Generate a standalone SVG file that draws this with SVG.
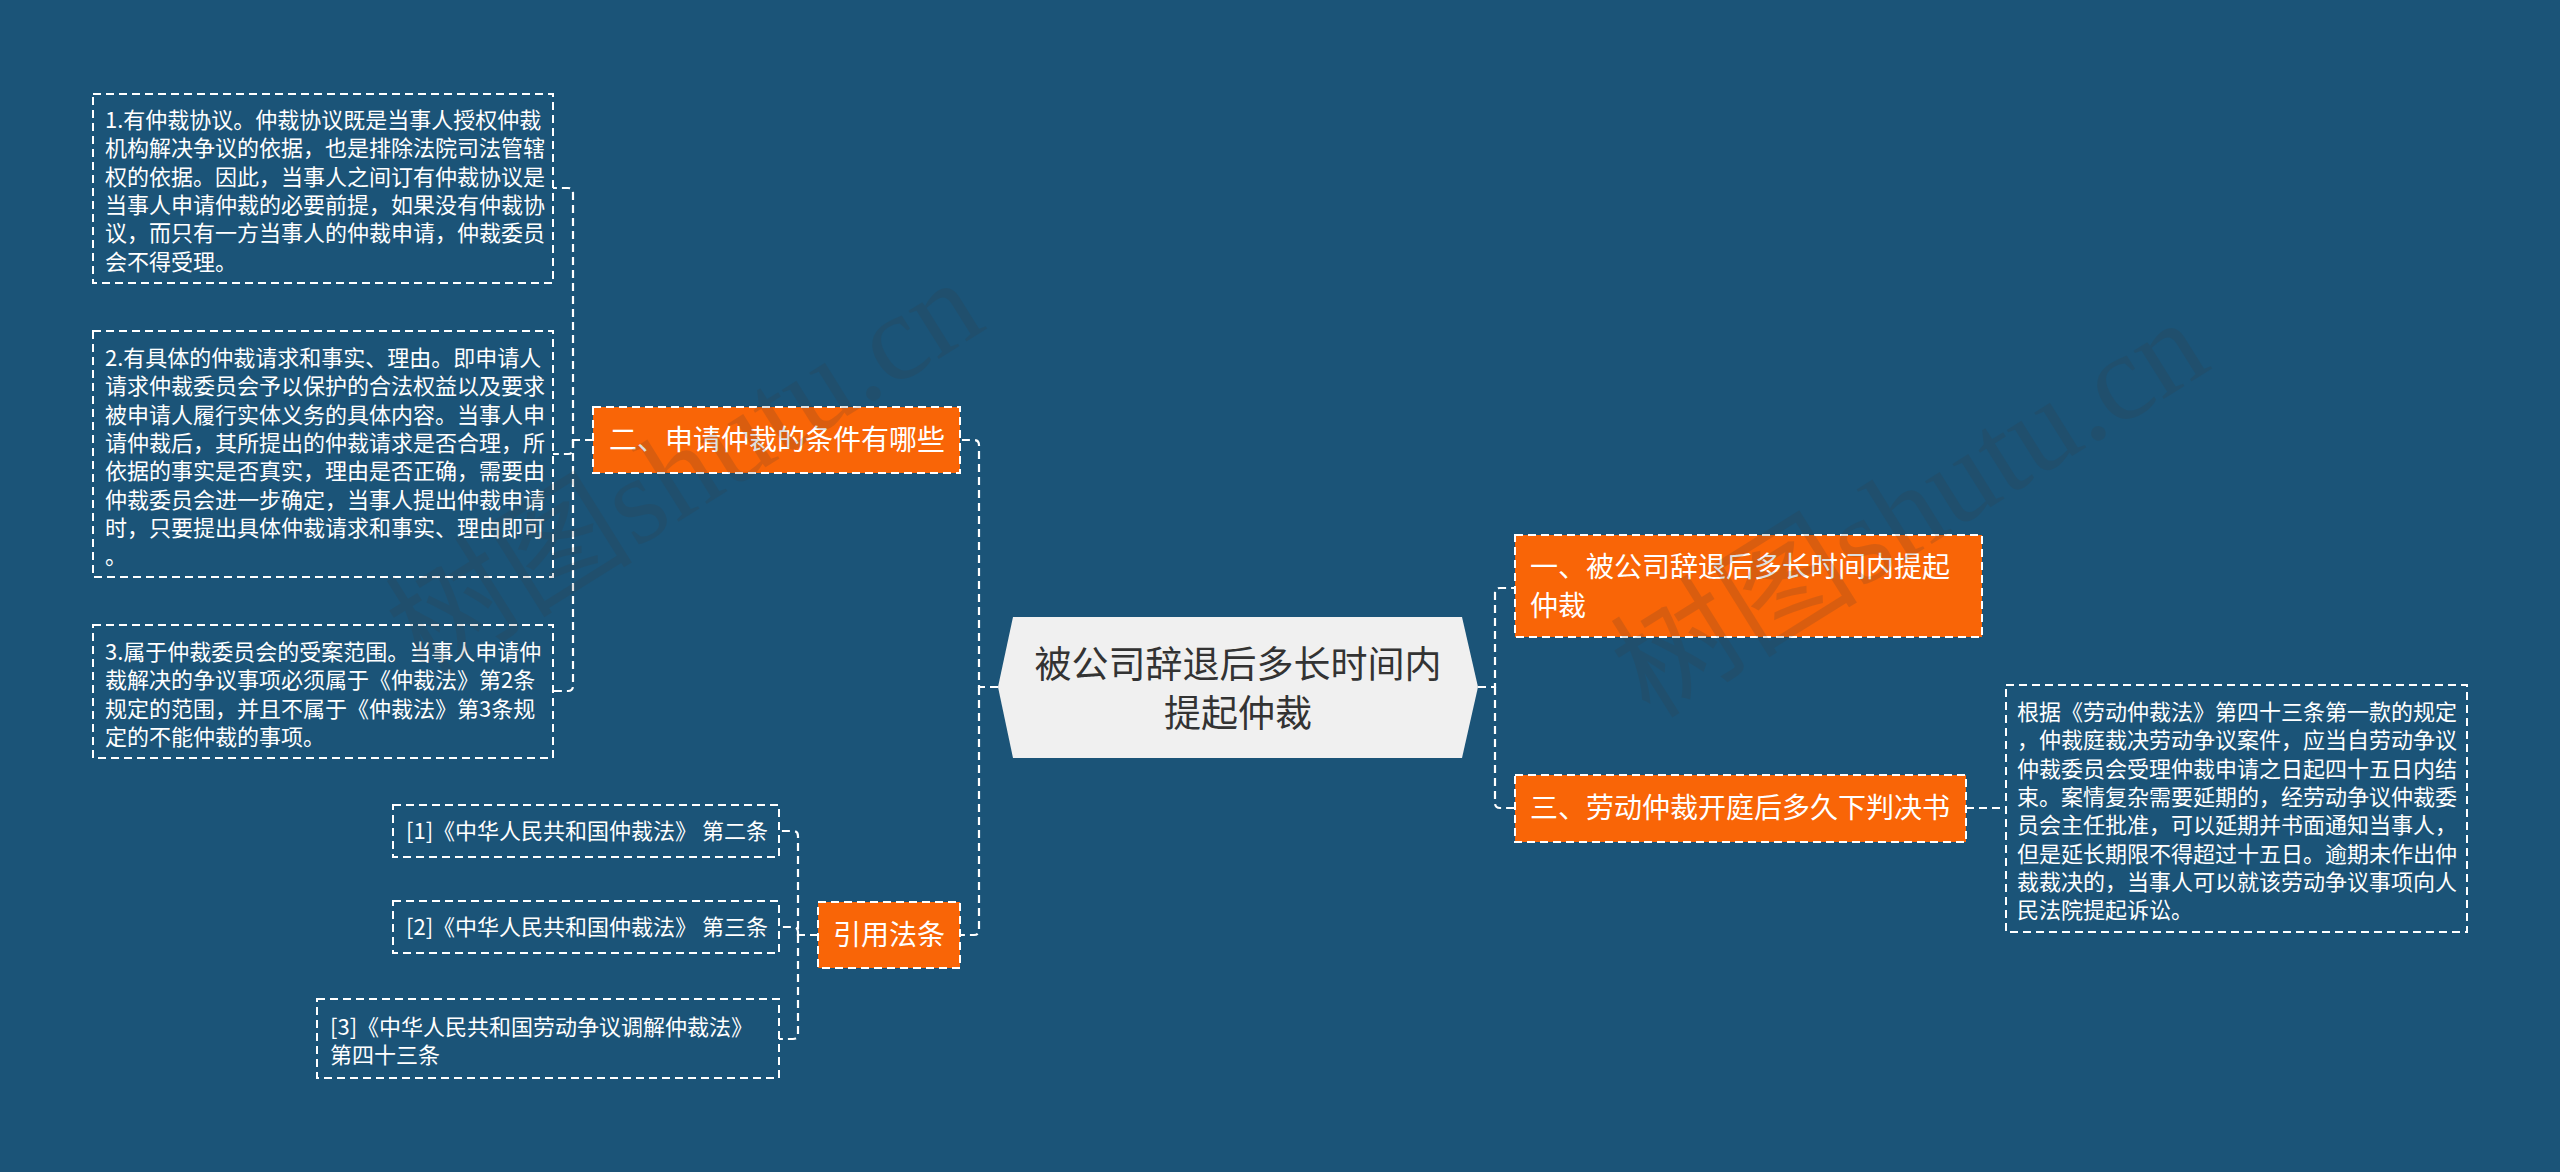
<svg xmlns="http://www.w3.org/2000/svg" width="2560" height="1172" viewBox="0 0 2560 1172">
<style>
.bg{fill:#1b5478}
.box{fill:none;stroke:#ffffff;stroke-width:2;stroke-dasharray:8 5}
.org{fill:#f96507;stroke:#ffffff;stroke-width:2;stroke-dasharray:8 5}
.conn{fill:none;stroke:#ffffff;stroke-width:2.2;stroke-dasharray:8 5}
.t{font-family:"Noto Sans CJK SC","Noto Sans",sans-serif;fill:#ffffff}
.s22{font-size:22px}
.s28{font-size:28px}
.c{font-family:"Noto Sans CJK SC","Noto Sans",sans-serif;font-size:37px;fill:#333333}
.wm{font-family:"Liberation Serif","Noto Sans CJK SC",serif;font-size:124px;fill:#3a3a3a;opacity:0.16}
</style>
<rect class="bg" x="0" y="0" width="2560" height="1172"/>

<g id="connectors">
<path class="conn" d="M998,687 H979 V445 Q979,440 974,440 H960"/>
<path class="conn" d="M979,687 V930 Q979,935 974,935 H960"/>
<path class="conn" d="M1478,687 H1495 V593 Q1495,588 1500,588 H1515"/>
<path class="conn" d="M1495,687 V803 Q1495,808 1500,808 H1515"/>
<path class="conn" d="M593,440 H573 V193 Q573,188 568,188 H553"/>
<path class="conn" d="M573,440 V449 Q573,454 568,454 H553"/>
<path class="conn" d="M573,440 V686 Q573,691 568,691 H553"/>
<path class="conn" d="M818,935 H798 V836 Q798,831 793,831 H779"/>
<path class="conn" d="M798,935 V932 Q798,927 793,927 H779"/>
<path class="conn" d="M798,935 V1034 Q798,1039 793,1039 H779"/>
<path class="conn" d="M1966,808 H2006"/>
</g>

<g id="center">
<polygon points="998,687 1013,617 1462,617 1478,687 1462,758 1013,758" fill="#f0f0f0"/>
<text class="c" x="1238" y="678" text-anchor="middle">被公司辞退后多长时间内</text>
<text class="c" x="1238" y="727" text-anchor="middle">提起仲裁</text>
</g>

<g id="n2">
<rect class="org" x="593" y="407" width="367" height="66"/>
<text class="t s28" x="609" y="450">二、申请仲裁的条件有哪些</text>
</g>

<g id="n2a">
<rect class="box" x="93" y="94" width="460" height="189"/>
<text class="t s22" x="105" y="128"><tspan x="105">1.有仲裁协议。仲裁协议既是当事人授权仲裁</tspan><tspan x="105" dy="28.33">机构解决争议的依据，也是排除法院司法管辖</tspan><tspan x="105" dy="28.33">权的依据。因此，当事人之间订有仲裁协议是</tspan><tspan x="105" dy="28.33">当事人申请仲裁的必要前提，如果没有仲裁协</tspan><tspan x="105" dy="28.33">议，而只有一方当事人的仲裁申请，仲裁委员</tspan><tspan x="105" dy="28.33">会不得受理。</tspan></text>
</g>

<g id="n2b">
<rect class="box" x="93" y="331" width="460" height="246"/>
<text class="t s22" x="105" y="366"><tspan x="105">2.有具体的仲裁请求和事实、理由。即申请人</tspan><tspan x="105" dy="28.33">请求仲裁委员会予以保护的合法权益以及要求</tspan><tspan x="105" dy="28.33">被申请人履行实体义务的具体内容。当事人申</tspan><tspan x="105" dy="28.33">请仲裁后，其所提出的仲裁请求是否合理，所</tspan><tspan x="105" dy="28.33">依据的事实是否真实，理由是否正确，需要由</tspan><tspan x="105" dy="28.33">仲裁委员会进一步确定，当事人提出仲裁申请</tspan><tspan x="105" dy="28.33">时，只要提出具体仲裁请求和事实、理由即可</tspan><tspan x="105" dy="28.33">。</tspan></text>
</g>

<g id="n2c">
<rect class="box" x="93" y="625" width="460" height="133"/>
<text class="t s22" x="105" y="660"><tspan x="105">3.属于仲裁委员会的受案范围。当事人申请仲</tspan><tspan x="105" dy="28.33">裁解决的争议事项必须属于《仲裁法》第2条</tspan><tspan x="105" dy="28.33">规定的范围，并且不属于《仲裁法》第3条规</tspan><tspan x="105" dy="28.33">定的不能仲裁的事项。</tspan></text>
</g>

<g id="ref">
<rect class="org" x="818" y="902" width="142" height="66"/>
<text class="t s28" x="889" y="945" text-anchor="middle">引用法条</text>
</g>

<g id="ref1">
<rect class="box" x="393" y="805" width="386" height="52"/>
<text class="t s22" x="406" y="839">[1]《中华人民共和国仲裁法》 第二条</text>
</g>
<g id="ref2">
<rect class="box" x="393" y="901" width="386" height="52"/>
<text class="t s22" x="406" y="935">[2]《中华人民共和国仲裁法》 第三条</text>
</g>
<g id="ref3">
<rect class="box" x="317" y="999" width="462" height="79"/>
<text class="t s22" x="330" y="1035"><tspan x="330">[3]《中华人民共和国劳动争议调解仲裁法》</tspan><tspan x="330" dy="28">第四十三条</tspan></text>
</g>

<g id="n1">
<rect class="org" x="1515" y="535" width="467" height="102"/>
<text class="t s28" x="1530" y="577"><tspan x="1530">一、被公司辞退后多长时间内提起</tspan><tspan x="1530" dy="39">仲裁</tspan></text>
</g>

<g id="n3">
<rect class="org" x="1515" y="775" width="451" height="67"/>
<text class="t s28" x="1530" y="818">三、劳动仲裁开庭后多久下判决书</text>
</g>

<g id="n3a">
<rect class="box" x="2006" y="685" width="461" height="247"/>
<text class="t s22" x="2017" y="720"><tspan x="2017">根据《劳动仲裁法》第四十三条第一款的规定</tspan><tspan x="2017" dy="28.33">，仲裁庭裁决劳动争议案件，应当自劳动争议</tspan><tspan x="2017" dy="28.33">仲裁委员会受理仲裁申请之日起四十五日内结</tspan><tspan x="2017" dy="28.33">束。案情复杂需要延期的，经劳动争议仲裁委</tspan><tspan x="2017" dy="28.33">员会主任批准，可以延期并书面通知当事人，</tspan><tspan x="2017" dy="28.33">但是延长期限不得超过十五日。逾期未作出仲</tspan><tspan x="2017" dy="28.33">裁裁决的，当事人可以就该劳动争议事项向人</tspan><tspan x="2017" dy="28.33">民法院提起诉讼。</tspan></text>
</g>

<g id="watermarks">
<text class="wm" transform="translate(425,680) rotate(-32)">树图shutu.cn</text>
<text class="wm" transform="translate(1650,720) rotate(-32)">树图shutu.cn</text>
</g>
</svg>
